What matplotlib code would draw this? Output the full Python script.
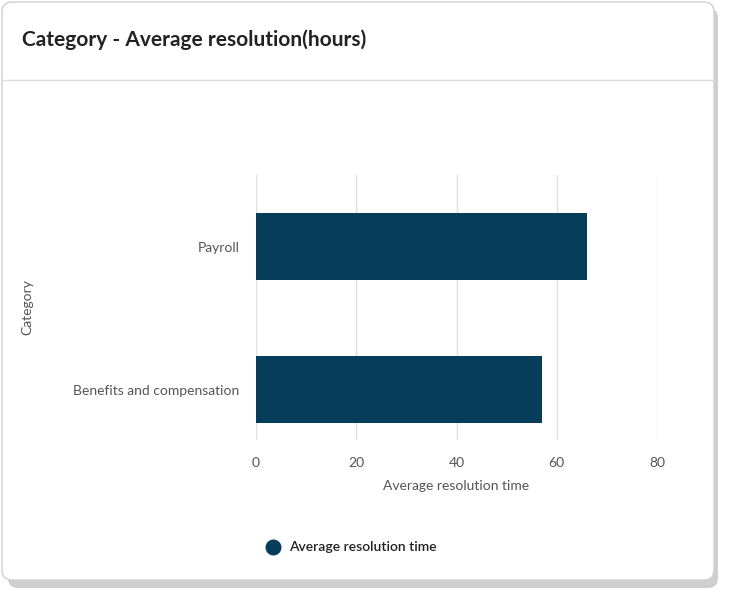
import matplotlib
matplotlib.use("Agg")
import matplotlib.pyplot as plt
from matplotlib.patches import FancyBboxPatch

categories = ["Benefits and compensation", "Payroll"]
values = [57, 66]
xticks = [0, 20, 40, 60, 80]

W, H = 730, 597
fig = plt.figure(figsize=(W/100, H/100), dpi=100)
fig.patch.set_facecolor("white")
bg = fig.add_axes([0, 0, 1, 1]); bg.set_xlim(0, W); bg.set_ylim(H, 0); bg.axis("off")
bg.add_patch(FancyBboxPatch((8, 8), 710, 580, boxstyle="round,pad=0,rounding_size=10",
                            fc="#cfcfcf", ec="none"))
bg.add_patch(FancyBboxPatch((2, 2), 712, 578, boxstyle="round,pad=0,rounding_size=10",
                            fc="white", ec="#d0d0d0", lw=1))
bg.plot([2, 714], [80, 80], color="#dddddd", lw=1)
bg.text(22, 40, "Category - Average resolution(hours)", fontsize=15, fontweight="bold",
        color="#222222", va="center", ha="left", family="Lato")

ax = fig.add_axes([256/W, 1-440/H, (657-256)/W, (440-175)/H])
ax.barh(range(len(categories)), values, height=0.47, color="#053d5a")
ax.set_xlim(0, 80); ax.set_ylim(-0.353, 1.5)
ax.set_xticks(xticks)
ax.set_yticks(range(len(categories))); ax.set_yticklabels(categories)
ax.grid(axis="x", color="#e0e0e0", lw=1); ax.set_axisbelow(True)
for s in ax.spines.values(): s.set_visible(False)
ax.tick_params(length=0, labelsize=10, colors="#555555", pad=12)
for t in ax.get_xticklabels() + ax.get_yticklabels(): t.set_family("Lato")
ax.set_xlabel("Average resolution time", fontsize=10, color="#555555", family="Lato", labelpad=8)
ax.set_ylabel("Category", fontsize=10, color="#555555", family="Lato", labelpad=15)
ax.yaxis.set_label_coords(-(256-33)/401, 0.5)

bg.scatter([273], [547], s=110, color="#053d5a")
bg.text(289, 547, "Average resolution time", fontsize=10, color="#222222", va="center",
        family="Lato", fontweight="semibold")
fig.savefig("out.png", dpi=100)
